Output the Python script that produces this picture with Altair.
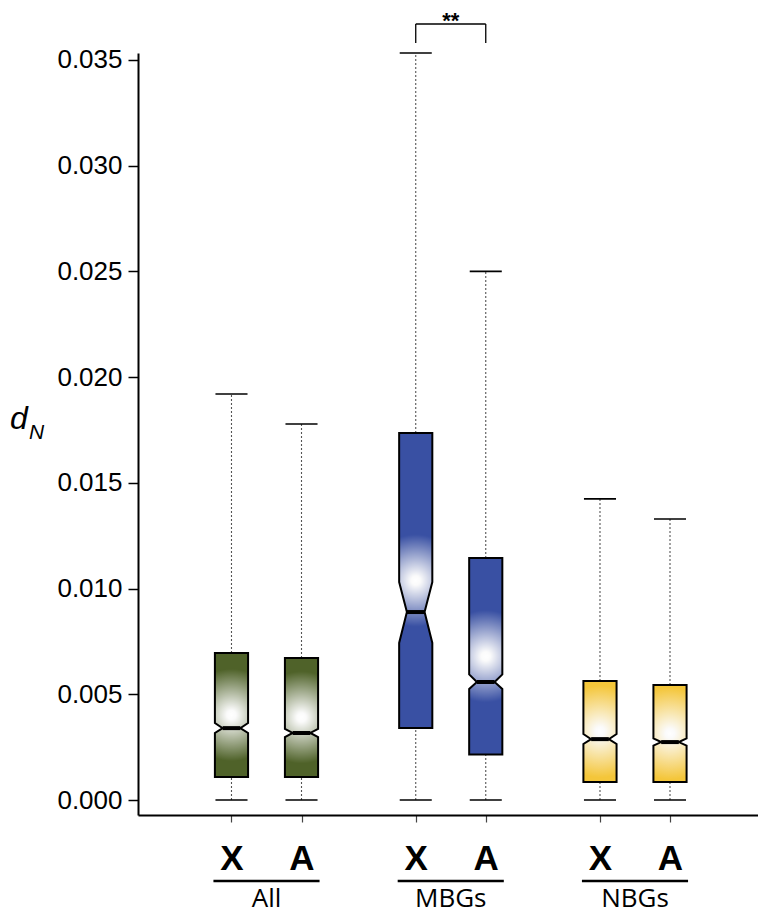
import altair as alt
import pandas as pd

# ---------------- data ----------------
groups = ["All", "MBGs", "NBGs"]
box_group = ["All", "All", "MBGs", "MBGs", "NBGs", "NBGs"]
box_sub = ["X", "A", "X", "A", "X", "A"]
whisker_low = [0.0, 0.0, 0.0, 0.0, 0.0, 0.0]
q1 = [0.00109, 0.00109, 0.00340, 0.00215, 0.00085, 0.00085]
notch_low = [0.00317, 0.00298, 0.00743, 0.00525, 0.00265, 0.00257]
median = [0.00340, 0.00317, 0.00889, 0.00558, 0.00288, 0.00274]
notch_high = [0.00364, 0.00336, 0.01031, 0.00594, 0.00312, 0.00291]
q3 = [0.00695, 0.00672, 0.01736, 0.01145, 0.00563, 0.00544]
whisker_high = [0.01920, 0.01778, 0.03533, 0.02500, 0.01424, 0.01329]
y_ticks = [0.000, 0.005, 0.010, 0.015, 0.020, 0.025, 0.030, 0.035]
sig_pair = ("MBGs", "X", "MBGs", "A")
sig_label = "**"

# ---------------- style ----------------
colors = {"All": "#4f6229", "MBGs": "#3950a3", "NBGs": "#f4c63a"}
OFF = 0.19          # offset of X / A inside a group (x units)
BOX_HW = 0.09       # half box width
NOTCH_HW = 0.048    # half width at the median
CAP_HW = 0.087      # half width of whisker caps
LINE_HW = 0.288     # half width of group underline
W, H = 620, 762
X_DOM = [-0.6974, 2.6676]
Y_DOM = [-0.000709, 0.03533]
PX_PER_UNIT = H / (Y_DOM[1] - Y_DOM[0])
GRAD_R_PX = 46

def pos(g, s):
    return groups.index(g) + (-OFF if s == "X" else OFF)

xs = alt.Scale(domain=X_DOM, nice=False, zero=False)
ys = alt.Scale(domain=Y_DOM, nice=False, zero=False)

x_axis = alt.Axis(
    values=[pos(g, s) for g in groups for s in ["X", "A"]],
    labelExpr="datum.value - round(datum.value) < 0 ? 'X' : 'A'",
    title=None, grid=False, domainColor="black", domainWidth=2,
    tickColor="#444444", tickSize=7, tickWidth=1.2,
    labelFont="Liberation Sans", labelFontWeight="bold", labelFontSize=35,
    labelColor="black", labelPadding=19, labelFlush=False, labelOverlap=False,
)
y_axis = alt.Axis(
    values=y_ticks, format=".3f", title=None, grid=False,
    domainColor="black", domainWidth=2, tickColor="black", tickSize=10,
    tickWidth=1.5, labelFont="Liberation Sans", labelFontSize=26,
    labelColor="black", labelPadding=6,
)

def X(field, **kw):
    return alt.X(field, type="quantitative", scale=xs, axis=x_axis, **kw)

def Y(field):
    return alt.Y(field, type="quantitative", scale=ys, axis=y_axis)

boxes = pd.DataFrame({
    "group": box_group, "sub": box_sub, "lo": whisker_low, "q1": q1,
    "nlo": notch_low, "med": median, "nhi": notch_high, "q3": q3,
    "hi": whisker_high,
})
boxes["pos"] = [pos(g, s) for g, s in zip(box_group, box_sub)]
boxes["cap_l"] = boxes["pos"] - CAP_HW
boxes["cap_r"] = boxes["pos"] + CAP_HW
boxes["med_l"] = boxes["pos"] - NOTCH_HW
boxes["med_r"] = boxes["pos"] + NOTCH_HW

layers = []

# dotted whiskers
whisk = pd.concat([
    pd.DataFrame({"pos": boxes["pos"], "a": boxes["q3"], "b": boxes["hi"]}),
    pd.DataFrame({"pos": boxes["pos"], "a": boxes["lo"], "b": boxes["q1"]}),
])
layers.append(
    alt.Chart(whisk).mark_rule(color="#555555", strokeWidth=1.1, strokeDash=[2, 2])
    .encode(x=X("pos"), y=Y("a"), y2="b")
)
# caps
caps = pd.concat([
    pd.DataFrame({"l": boxes["cap_l"], "r": boxes["cap_r"], "v": boxes["hi"]}),
    pd.DataFrame({"l": boxes["cap_l"], "r": boxes["cap_r"], "v": boxes["lo"]}),
])
layers.append(
    alt.Chart(caps).mark_rule(color="black", strokeWidth=1.6)
    .encode(x=X("l"), x2="r", y=Y("v"))
)

# notched boxes with radial gradient fill
for i, row in boxes.iterrows():
    p = row["pos"]
    shape = pd.DataFrame({
        "y": [row["q1"], row["nlo"], row["med"], row["nhi"], row["q3"]],
        "xl": [p - BOX_HW, p - BOX_HW, p - NOTCH_HW, p - BOX_HW, p - BOX_HW],
        "xr": [p + BOX_HW, p + BOX_HW, p + NOTCH_HW, p + BOX_HW, p + BOX_HW],
    })
    h_px = (row["q3"] - row["q1"]) * PX_PER_UNIT
    r2 = min(0.5, GRAD_R_PX / h_px)
    grad = {
        "gradient": "radial",
        "x1": 0.5, "y1": 0.5, "r1": 0,
        "x2": 0.5, "y2": 0.5, "r2": r2,
        "stops": [
            {"offset": 0, "color": "#ffffff"},
            {"offset": 0.1, "color": "#fbfbfb"},
            {"offset": 1, "color": colors[row["group"]]},
        ],
    }
    layers.append(
        alt.Chart(shape).mark_area(
            orient="horizontal", fill=grad, stroke="black", strokeWidth=2,
            strokeJoin="miter", interpolate="linear",
        ).encode(
            y=Y("y"), x=X("xl", stack=None), x2="xr",
        )
    )

# medians
layers.append(
    alt.Chart(boxes).mark_rule(color="black", strokeWidth=4)
    .encode(x=X("med_l"), x2="med_r", y=Y("med"))
)

# group underlines and names
grp = pd.DataFrame({"name": groups, "c": [0, 1, 2]})
grp["l"] = grp["c"] - LINE_HW
grp["r"] = grp["c"] + LINE_HW
layers.append(
    alt.Chart(grp).mark_rule(color="black", strokeWidth=2.5)
    .encode(x=X("l"), x2="r", y=alt.value(828))
)
layers.append(
    alt.Chart(grp).mark_text(font="Open Sans", fontSize=26, baseline="alphabetic", color="black")
    .encode(x=X("c"), y=alt.value(854), text="name:N")
)

# significance bracket
bx1 = pos(sig_pair[0], sig_pair[1])
bx2 = pos(sig_pair[2], sig_pair[3])
br = pd.DataFrame({"a": [bx1], "b": [bx2], "m": [(bx1 + bx2) / 2], "t": [sig_label]})
layers.append(
    alt.Chart(br).mark_rule(color="black", strokeWidth=1.3)
    .encode(x=X("a"), x2="b", y=alt.value(-29))
)
brv = pd.DataFrame({"p": [bx1, bx2]})
layers.append(
    alt.Chart(brv).mark_rule(color="black", strokeWidth=1.3)
    .encode(x=X("p"), y=alt.value(-29), y2=alt.value(-10))
)
layers.append(
    alt.Chart(br).mark_text(font="Liberation Sans", fontSize=22, fontWeight="bold",
                            baseline="alphabetic", color="black")
    .encode(x=X("m"), y=alt.value(-25), text="t:N")
)

# y-axis title d_N
title_df = pd.DataFrame({"d": ["d"], "n": ["N"]})
layers.append(
    alt.Chart(title_df).mark_text(font="Liberation Sans", fontSize=32, fontStyle="italic",
                                  align="left", baseline="alphabetic", color="black")
    .encode(x=alt.value(-128), y=alt.value(376), text="d:N")
)
layers.append(
    alt.Chart(title_df).mark_text(font="Liberation Sans", fontSize=21, fontStyle="italic",
                                  align="left", baseline="alphabetic", color="black")
    .encode(x=alt.value(-109), y=alt.value(386), text="n:N")
)

chart = alt.layer(*layers).properties(
    width=W, height=H,
    padding={"left": 130, "top": 45, "right": 0, "bottom": 100},
    autosize=alt.AutoSizeParams(type="none"),
).configure(background="white").configure_view(stroke=None)

chart.save("out.html", embed_options={"renderer": "svg", "actions": False})
